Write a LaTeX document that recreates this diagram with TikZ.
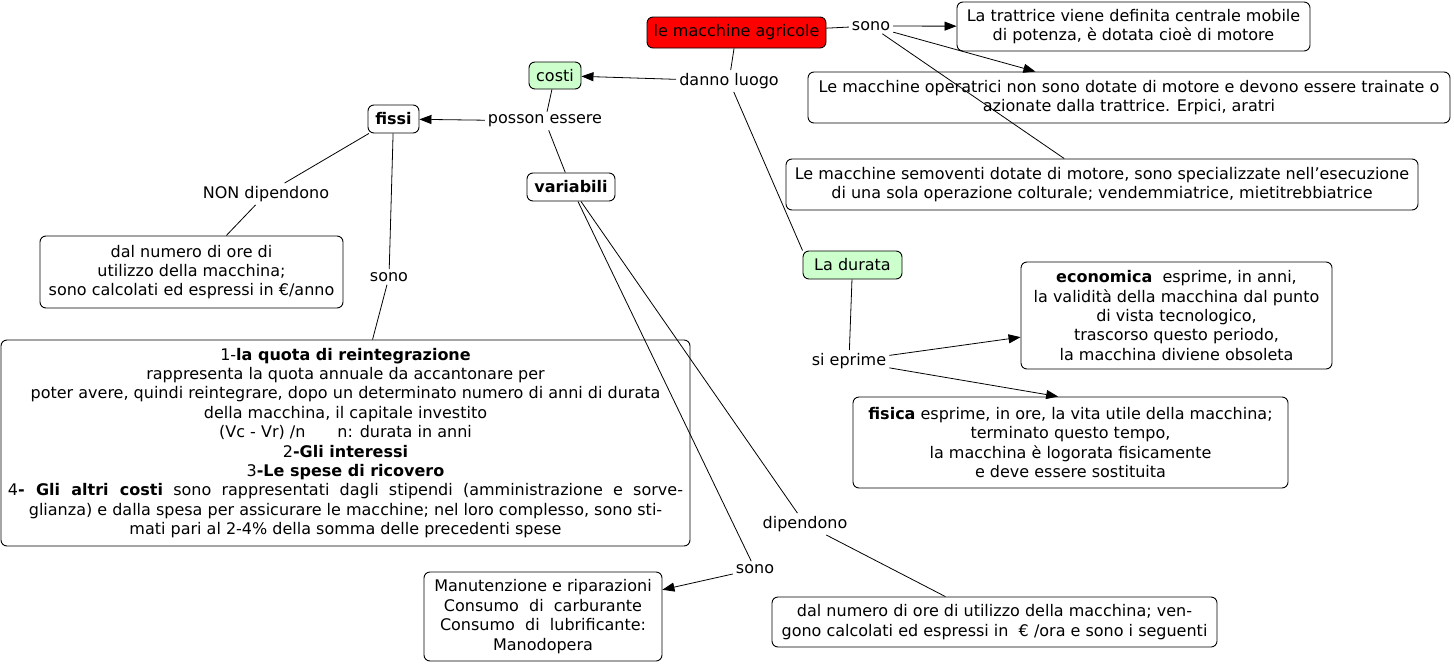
\documentclass[tikz,border=0pt]{standalone}
\usepackage{fontspec}
\setmainfont{DejaVu Sans}
\usetikzlibrary{arrows.meta}
\definecolor{costgreen}{RGB}{204,255,204}
\tikzset{
  concept/.style={draw, rounded corners=6pt, fill=white, align=center, inner sep=2pt, line width=0.9pt},
  phrase/.style={inner sep=3pt, yshift=-2pt},
  link/.style={line width=0.8pt},
  linkarrow/.style={link, -{Triangle[length=12pt,width=9pt]}},
}

\begin{document}
\begin{tikzpicture}[x=1pt, y=-1pt, every node/.style={font=\fontsize{16}{19.4}\selectfont}]
    \useasboundingbox (0,0) rectangle (1454,664);
    % concepts
    \node [concept, fill=red, minimum width=179pt, minimum height=31pt] (agricole) at (736.5,32.5) {le macchine agricole};
    \node [concept, minimum width=353pt, minimum height=49pt] (trattrice) at (1133.5,26.5) {La trattrice viene definita centrale mobile\\di potenza, è dotata cioè di motore};
    \node [concept, minimum width=642pt, minimum height=51pt] (operatrici) at (1129,97.5) {Le macchine operatrici non sono dotate di motore e devono essere trainate o\\azionate dalla trattrice. Erpici, aratri};
    \node [concept, minimum width=632pt, minimum height=51pt] (semoventi) at (1102,184.5) {Le macchine semoventi dotate di motore, sono specializzate nell’esecuzione\\di una sola operazione colturale; vendemmiatrice, mietitrebbiatrice};
    \node [concept, fill=costgreen, minimum width=52pt, minimum height=27pt] (costi) at (555,75.5) {costi};
    \node [concept, minimum width=51pt, minimum height=28pt] (fissi) at (393.5,119) {\textbf{fissi}};
    \node [concept, minimum width=88pt, minimum height=28pt] (variabili) at (571,187) {\textbf{variabili}};
    \node [concept, minimum width=303pt, minimum height=72pt] (orefissi) at (191.5,272) {dal numero di ore di\\utilizzo della macchina;\\sono calcolati ed espressi in €/anno};
    \node [concept, minimum width=689pt, minimum height=206pt] (quote) at (345.5,443) {1-\textbf{la quota di reintegrazione}\\
      rappresenta la quota annuale da accantonare per\\
      poter avere, quindi reintegrare, dopo un determinato numero di anni di durata\\
      della macchina, il capitale investito\\
      (Vc - Vr) /n\hspace{2em}n: durata in anni\\
      2\textbf{-Gli interessi}\\
      3\textbf{-Le spese di ricovero}\\
      \makebox[675pt][s]{4\textbf{- Gli altri costi} sono rappresentati dagli stipendi (amministrazione e sorve-}\\
      glianza) e dalla spesa per assicurare le macchine; nel loro complesso, sono sti-\\
      mati pari al 2-4\% della somma delle precedenti spese};
    \node [concept, minimum width=238pt, minimum height=89pt] (consumi) at (543,616.5) {Manutenzione e riparazioni\\Consumo~ di~ carburante\\Consumo~ di~ lubrificante:\\Manodopera};
    \node [concept, minimum width=445pt, minimum height=50pt] (orevar) at (994.5,622) {dal numero di ore di utilizzo della macchina; ven-\\gono calcolati ed espressi in~ € /ora e sono i seguenti};
    \node [concept, fill=costgreen, minimum width=99pt, minimum height=28pt] (durata) at (852.5,265) {La durata};
    \node [concept, minimum width=311pt, minimum height=107pt] (economica) at (1176.5,315.5) {\textbf{economica}~ esprime, in anni,\\la validità della macchina dal punto\\di vista tecnologico,\\trascorso questo periodo,\\la macchina diviene obsoleta};
    \node [concept, minimum width=435pt, minimum height=91pt] (fisica) at (1070.5,442.5) {\textbf{fisica} esprime, in ore, la vita utile della macchina;\\terminato questo tempo,\\la macchina è logorata fisicamente\\e deve essere sostituita};
    % linking phrases
    \node [phrase] (sono) at (871,24) {sono};
    \node [phrase] (danno) at (729,79) {danno luogo};
    \node [phrase] (posson) at (545,119) {posson essere};
    \node [phrase] (nondip) at (266,192) {NON dipendono};
    \node [phrase] (sonofissi) at (389,275) {sono};
    \node [phrase] (dipendono) at (805,522) {dipendono};
    \node [phrase] (sonovar) at (755,567) {sono};
    \node [phrase] (eprime) at (849,359) {si eprime};
    % connections
    \draw [link] (agricole) -- (sono);
    \draw [linkarrow] (sono) -- (trattrice);
    \draw [linkarrow] (sono) -- (operatrici);
    \draw [link] (sono) -- (semoventi);
    \draw [link] (agricole) -- (danno);
    \draw [linkarrow] (danno) -- (costi);
    \draw [link] (danno) -- (durata.north west);
    \draw [link] (costi) -- (posson);
    \draw [linkarrow] (posson) -- (fissi);
    \draw [link] (posson) -- (variabili);
    \draw [link] (fissi) -- (nondip);
    \draw [link] (nondip) -- (orefissi);
    \draw [link] (fissi) -- (sonofissi);
    \draw [link] (sonofissi) -- (quote);
    \draw [link] (variabili) -- (dipendono);
    \draw [link] (dipendono) -- (orevar);
    \draw [link] (variabili) -- (sonovar);
    \draw [linkarrow] (sonovar) -- (consumi);
    \draw [link] (durata) -- (eprime);
    \draw [linkarrow] (eprime) -- (economica);
    \draw [linkarrow] (eprime) -- (fisica.105);
\end{tikzpicture}
\end{document}
